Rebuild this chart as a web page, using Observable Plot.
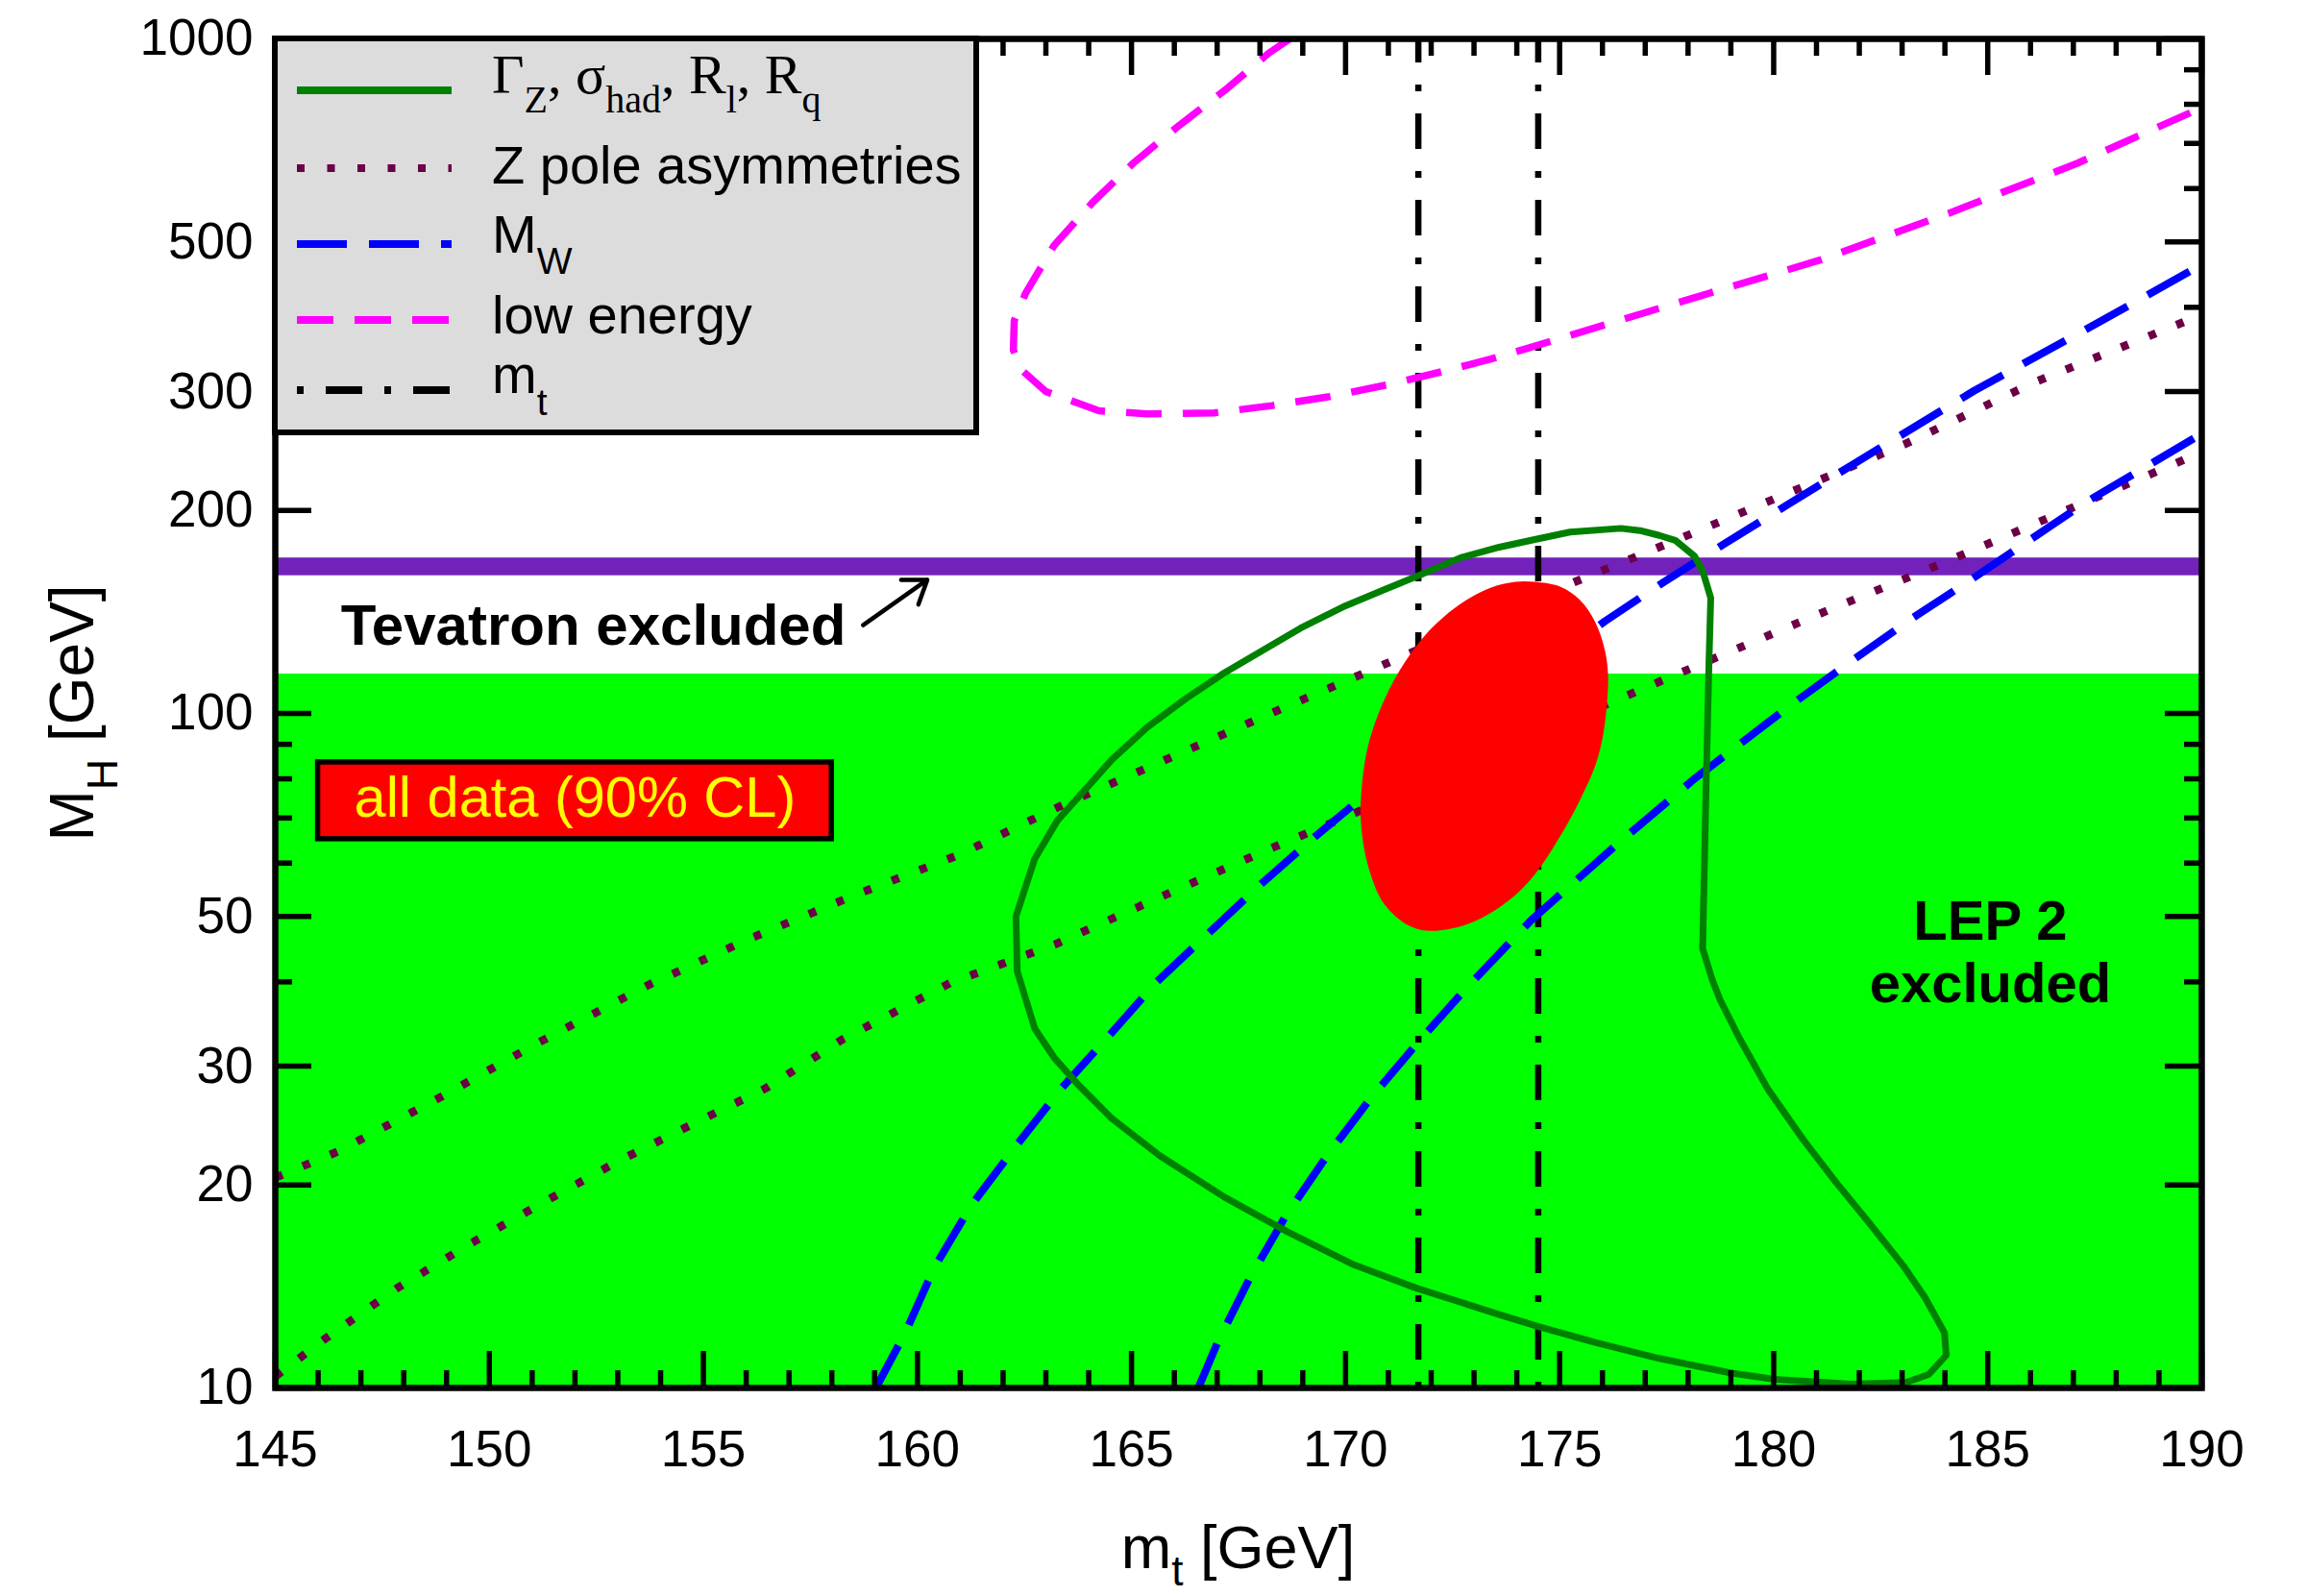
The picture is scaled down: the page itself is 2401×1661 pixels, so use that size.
<!DOCTYPE html>
<html><head><meta charset="utf-8">
<script src="https://cdn.jsdelivr.net/npm/d3@7"></script>
<script src="https://cdn.jsdelivr.net/npm/@observablehq/plot@0.6"></script>
<style>
html,body{margin:0;padding:0;background:#fff;overflow:hidden}
</style></head><body><div id="chart"></div>
<script>
// ---------- data ----------
const xDomain = [145, 190];
const yDomain = [10, 1000];
const xMajorTicks = [145, 150, 155, 160, 165, 170, 175, 180, 185, 190];
const xMinorTicks = d3.range(145, 191, 1).filter(v => v % 5 !== 0);
const yMajorTicks = [10, 20, 30, 50, 100, 200, 300, 500, 1000];
const yMinorTicks = [40, 60, 70, 80, 90, 400, 600, 700, 800, 900];

const lep2Limit = 114.4;
const tevatronBand = [160, 170];
const mtBand = [171.7, 174.5];

// all data (90% CL) region  [mt, MH]
const allDataEllipse = [[174.41,156.7],[175.01,154.2],[175.46,147.6],[175.83,136.7],[176.06,123.9],[176.13,114.8],[176.12,106.3],[176.02,93.3],[175.83,83.6],[175.46,74.1],[175.01,65.7],[174.41,57.6],[173.81,52.8],[172.92,48.9],[172.02,47.6],[171.50,48.4],[170.90,52.2],[170.52,59.6],[170.36,68.7],[170.37,76.6],[170.52,89.2],[170.82,101.8],[171.27,116.0],[171.87,130.9],[172.62,144.4],[173.37,153.4],[173.97,156.7]];

// Gamma_Z, sigma_had, R_l, R_q contour
const gammaZContour = [[162.33,41.5],[162.30,50.0],[162.74,60.9],[163.27,69.4],[163.94,77.4],[164.54,85.4],[165.36,95.3],[166.26,105.1],[167.16,114.8],[168.05,123.9],[168.95,133.8],[170.00,144.4],[170.90,152.5],[171.72,160.2],[172.69,170.2],[173.59,176.4],[174.34,180.6],[175.24,185.7],[176.43,188.1],[176.88,186.7],[177.33,183.6],[177.70,180.6],[178.15,171.1],[178.34,162.8],[178.53,148.4],[178.49,119.9],[178.42,77.4],[178.34,44.8],[178.57,40.2],[178.75,37.6],[179.20,33.0],[179.87,27.7],[180.70,23.3],[181.45,20.2],[182.19,17.7],[183.02,15.2],[183.54,13.6],[183.99,12.07],[184.03,11.18],[183.62,10.47],[183.09,10.19],[181.82,10.13],[180.02,10.30],[178.98,10.53],[177.33,11.06],[175.83,11.68],[174.49,12.34],[173.59,12.85],[171.64,14.07],[170.15,15.27],[168.65,17.03],[167.16,19.2],[165.66,22.1],[164.54,25.1],[163.79,28.0],[163.19,30.9],[162.74,34.1],[162.33,41.5]];

// Z pole asymmetries (two bounds)
const zPoleUpper = [[145,20.5],[146.45,22.4],[148.82,26.9],[151.18,32.6],[153.69,39.5],[156.06,46.3],[158.57,53.9],[160.94,61.6],[163.42,73.3],[165.89,85.9],[168.36,100.7],[170.82,117.6],[175.09,154.2],[177.63,179.7],[181.08,222],[183.08,251],[186.09,309.7],[190,390]];
const zPoleLower = [[145,10.4],[146.14,11.8],[147.86,14.08],[149.58,16.4],[151.30,18.9],[153.02,21.7],[154.74,24.6],[156.45,27.8],[158.26,32.9],[160.78,39.9],[163.23,45.5],[165.66,53.4],[168.13,62.6],[170.0,70.2],[176.13,103.4],[178.64,120.9],[181.07,140.5],[183.62,163.7],[184.77,175.8],[190,244]];

// M_W (two bounds)
const mwUpper = [[159.03,10],[159.72,12.09],[160.40,15.11],[161.26,18.66],[162.29,22.78],[163.34,27.7],[164.46,33.2],[165.59,40.0],[166.78,47.1],[168.02,55.8],[169.29,65.7],[170.15,72.9],[176.06,137.0],[177.44,156.7],[178.86,178.7],[180.32,203.8],[181.88,234.6],[184.68,300.8],[187.69,383],[190,463]];
const mwLower = [[166.56,10],[167.01,11.68],[167.76,14.54],[168.58,17.89],[169.55,22.02],[170.60,26.96],[171.65,32.3],[172.81,39.1],[174.34,49.4],[176.43,64.7],[178.15,80.0],[180.40,102.9],[181.74,118.6],[183.17,137.5],[184.59,157.6],[187.29,205.6],[190,259.8]];

// low energy contour
const lowEnergy = [[168.7,1000],[168.20,952],[167.23,844],[166.11,744],[165.06,656],[164.09,572],[163.19,494],[162.52,419],[162.26,382],[162.24,346],[162.41,324],[163.00,300],[164.24,281],[165.36,278],[166.93,279],[168.28,286],[169.63,295],[170.97,307],[172.24,321],[173.37,335],[174.26,348],[178.07,412],[181.08,470],[184.08,551],[187.09,654],[190,791]];

// annotations
const annotTevatron = [{x: 146.53, y: 134.7, text: "Tevatron excluded"}];
const tevatronArrow = [{x1: 158.73, y1: 135.2, x2: 160.23, y2: 157.8}];
const annotLep = [{x: 185.06, y: 44.4, text: "LEP 2\nexcluded"}];
const allDataBox = [{x1: 146.0, x2: 158.0, y1: 65.1, y2: 84.6}];
const annotAllData = [{x: 152.0, y: 74.7, text: "all data (90% CL)"}];

// legend labels
const legendLabels = ["Z pole asymmetries", "low energy"];

// ---------- layout ----------
const W = 2401, H = 1661;
const mL = 286, mR = 110, mT = 40, mB = 217;
const frameW = W - mL - mR, frameH = H - mT - mB;
const majorLen = 38, minorLen = 18;
const tk = {stroke: "black", strokeWidth: 5.5};

const colGreen = "#008000", colDot = "#6b0047", colBlue = "#0000ff", colMag = "#ff00ff";
const dashBlue = "50,24", dashMag = "37,22", dashDot = "8,23", dashMt = "37,23,7,23";
const px = d => d[0], py = d => d[1];

const chart = Plot.plot({
  width: W, height: H,
  marginLeft: mL, marginRight: mR, marginTop: mT, marginBottom: mB,
  x: {domain: xDomain},
  y: {type: "log", domain: yDomain},
  style: {fontFamily: "'Liberation Sans', Arial, sans-serif", color: "black", background: "white"},
  marks: [
    Plot.rect([{x1: xDomain[0], x2: xDomain[1], y1: yDomain[0], y2: lep2Limit}], {x1: "x1", x2: "x2", y1: "y1", y2: "y2", fill: "#00ff00"}),
    Plot.rect([{x1: xDomain[0], x2: xDomain[1], y1: tevatronBand[0], y2: tevatronBand[1]}], {x1: "x1", x2: "x2", y1: "y1", y2: "y2", fill: "#7222bb"}),
    Plot.ruleX(mtBand, {x: d => d, stroke: "black", strokeWidth: 6.5, strokeDasharray: dashMt, strokeDashoffset: 12}),
    Plot.line(zPoleUpper, {x: px, y: py, stroke: colDot, strokeWidth: 8.5, strokeDasharray: dashDot, strokeLinecap: "butt", clip: true}),
    Plot.line(zPoleLower, {x: px, y: py, stroke: colDot, strokeWidth: 8.5, strokeDasharray: dashDot, strokeLinecap: "butt", clip: true}),
    Plot.line(mwUpper, {x: px, y: py, stroke: colBlue, strokeWidth: 8, strokeDasharray: dashBlue, strokeLinecap: "butt", clip: true}),
    Plot.line(mwLower, {x: px, y: py, stroke: colBlue, strokeWidth: 8, strokeDasharray: dashBlue, strokeLinecap: "butt", clip: true}),
    Plot.line(lowEnergy, {x: px, y: py, stroke: colMag, strokeWidth: 7.5, strokeDasharray: dashMag, strokeLinecap: "butt", clip: true}),
    Plot.line(gammaZContour, {x: px, y: py, stroke: colGreen, strokeWidth: 7, curve: "linear", clip: true}),
    Plot.line(allDataEllipse, {x: px, y: py, fill: "#ff0000", stroke: "none", curve: "catmull-rom-closed"}),
    // ticks (inward, all four sides)
    Plot.tickX(xMajorTicks, {x: d => d, insetTop: frameH - majorLen, ...tk}),
    Plot.tickX(xMajorTicks, {x: d => d, insetBottom: frameH - majorLen, ...tk}),
    Plot.tickX(xMinorTicks, {x: d => d, insetTop: frameH - minorLen, ...tk}),
    Plot.tickX(xMinorTicks, {x: d => d, insetBottom: frameH - minorLen, ...tk}),
    Plot.tickY(yMajorTicks, {y: d => d, insetRight: frameW - majorLen, ...tk}),
    Plot.tickY(yMajorTicks, {y: d => d, insetLeft: frameW - majorLen, ...tk}),
    Plot.tickY(yMinorTicks, {y: d => d, insetRight: frameW - minorLen, ...tk}),
    Plot.tickY(yMinorTicks, {y: d => d, insetLeft: frameW - minorLen, ...tk}),
    Plot.frame({stroke: "black", strokeWidth: 6.5}),
    Plot.axisX(xMajorTicks, {tickSize: 0, tickPadding: 44, fontSize: 53, label: null, fill: "black"}),
    Plot.axisY(yMajorTicks, {tickSize: 0, tickPadding: 23, fontSize: 53, label: null, fill: "black", tickFormat: d => String(d)}),
    // annotations
    Plot.text(annotTevatron, {x: "x", y: "y", text: "text", textAnchor: "start", fontSize: 60, fontWeight: "bold", fill: "black"}),
    Plot.arrow(tevatronArrow, {x1: "x1", y1: "y1", x2: "x2", y2: "y2", stroke: "black", strokeWidth: 4.5, headLength: 28, headAngle: 70}),
    Plot.text(annotLep, {x: "x", y: "y", text: "text", fontSize: 58, fontWeight: "bold", lineHeight: 1.12, fill: "black"}),
    Plot.rect(allDataBox, {x1: "x1", x2: "x2", y1: "y1", y2: "y2", fill: "#ff0000", stroke: "black", strokeWidth: 5.5}),
    Plot.text(annotAllData, {x: "x", y: "y", text: "text", fontSize: 59.5, fill: "#ffff00"})
  ]
});
document.getElementById("chart").appendChild(chart);

// ---------- legend & axis titles ----------
const svg = d3.select(chart);
const sans = "'Liberation Sans', Arial, sans-serif";
const serif = "'Liberation Serif', 'Times New Roman', serif";
const lg = svg.append("g").attr("text-anchor", "start");
lg.append("rect").attr("x", 286).attr("y", 40).attr("width", 730).attr("height", 410)
  .attr("fill", "#dcdcdc").attr("stroke", "black").attr("stroke-width", 6);

const legendRows = [
  {y: 94, stroke: colGreen, dash: null},
  {y: 175, stroke: colDot, dash: "8,23.5"},
  {y: 254, stroke: colBlue, dash: "52,23"},
  {y: 333, stroke: colMag, dash: "38,22"},
  {y: 406, stroke: "black", dash: "7,23,38,23"}
];
legendRows.forEach(r => {
  lg.append("line").attr("x1", 309).attr("x2", 470).attr("y1", r.y).attr("y2", r.y)
    .attr("stroke", r.stroke).attr("stroke-width", 8)
    .attr("stroke-dasharray", r.dash).attr("stroke-linecap", "butt");
});

// row 0: Gamma_Z, sigma_had, R_l, R_q
const t0 = lg.append("text").attr("x", 512).attr("y", 97).attr("text-anchor", "start")
  .attr("font-family", serif).attr("font-size", 58).attr("fill", "black");
const parts0 = [["Γ", false], ["Z", true], [", σ", false], ["had", true], [", R", false], ["l", true], [", R", false], ["q", true]];
parts0.forEach(([s, sub], i) => {
  const ts = t0.append("tspan").text(s);
  if (sub) ts.attr("font-size", 40).attr("dy", 20);
  else if (i > 0) ts.attr("dy", -20);
});
lg.append("text").attr("x", 512).attr("y", 191).attr("text-anchor", "start")
  .attr("font-family", sans).attr("font-size", 56).attr("fill", "black").text(legendLabels[0]);
const t2 = lg.append("text").attr("x", 512).attr("y", 263).attr("text-anchor", "start")
  .attr("font-family", sans).attr("font-size", 56).attr("fill", "black");
t2.append("tspan").text("M");
t2.append("tspan").attr("font-size", 39).attr("dy", 22).text("W");
lg.append("text").attr("x", 512).attr("y", 347).attr("text-anchor", "start")
  .attr("font-family", sans).attr("font-size", 56).attr("fill", "black").text(legendLabels[1]);
const t4 = lg.append("text").attr("x", 512).attr("y", 409).attr("text-anchor", "start")
  .attr("font-family", sans).attr("font-size", 56).attr("fill", "black");
t4.append("tspan").text("m");
t4.append("tspan").attr("font-size", 39).attr("dy", 23).text("t");

// x title
const xt = svg.append("text").attr("x", (mL + W - mR) / 2).attr("y", 1632).attr("text-anchor", "middle")
  .attr("font-family", sans).attr("font-size", 63).attr("fill", "black");
xt.append("tspan").text("m");
xt.append("tspan").attr("font-size", 44).attr("dy", 18).text("t");
xt.append("tspan").attr("dy", -18).text(" [GeV]");

// y title
const yt = svg.append("text").attr("transform", `translate(97,${(mT + H - mB) / 2}) rotate(-90)`).attr("text-anchor", "middle")
  .attr("font-family", sans).attr("font-size", 64).attr("fill", "black");
yt.append("tspan").text("M");
yt.append("tspan").attr("font-size", 45).attr("dy", 25).text("H");
yt.append("tspan").attr("dy", -25).text(" [GeV]");
</script>
</body></html>
